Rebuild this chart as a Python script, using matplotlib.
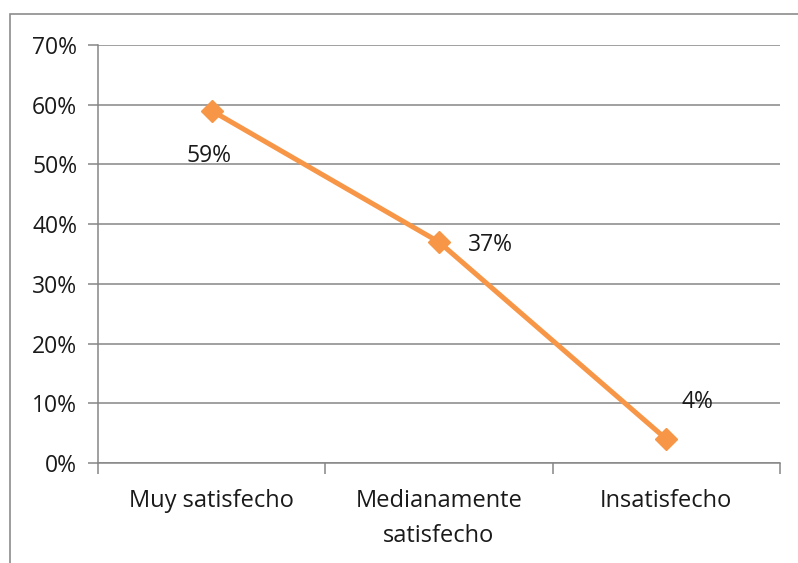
import matplotlib.pyplot as plt
import matplotlib.patches as patches
from matplotlib.ticker import FixedLocator

categories = ['Muy satisfecho', 'Medianamente\nsatisfecho', 'Insatisfecho']
values = [0.59, 0.37, 0.04]
labels = ['59%', '37%', '4%']
yticks = [0, 0.1, 0.2, 0.3, 0.4, 0.5, 0.6, 0.7]

plt.rcParams['font.family'] = ['Open Sans', 'DejaVu Sans']

W, H = 798, 563
fig = plt.figure(figsize=(W / 100, H / 100), dpi=100)

# chart border (right and bottom edges fall outside the image)
fig.patches.append(patches.Rectangle((10 / W, -0.1), 1.1, 1 - 14 / H + 0.1,
                                     transform=fig.transFigure, fill=False,
                                     edgecolor='#8c8c8c', linewidth=1.2))

ax = fig.add_axes([98 / W, 1 - 463 / H, (780 - 98) / W, (463 - 45) / H])
x = [0, 1, 2]
ax.plot(x, values, color='#F79646', linewidth=3.6, marker='D', markersize=11.5,
        solid_capstyle='round', zorder=3)

offsets = [(-3, -45), (51, -3), (31, 37)]
for xi, v, lab, (dx, dy) in zip(x, values, labels, offsets):
    ax.annotate(lab, (xi, v), xytext=(dx, dy), textcoords='offset pixels',
                ha='center', va='center', fontsize=16.5, color='#1a1a1a')

ax.set_xlim(-0.5, 2.5)
ax.set_ylim(0, 0.7)
ax.set_yticks(yticks)
ax.set_yticklabels([f'{int(round(t * 100))}%' for t in yticks])
ax.yaxis.grid(True, color='#868686', linewidth=1.1)
ax.set_axisbelow(True)

ax.set_xticks(x)
ax.set_xticklabels(categories, fontsize=17, color='#1a1a1a', linespacing=1.6)
ax.xaxis.set_minor_locator(FixedLocator([-0.5, 0.5, 1.5, 2.5]))
ax.tick_params(axis='x', which='major', length=0, pad=19)
ax.tick_params(axis='x', which='minor', length=8, color='#868686', width=1.1)
ax.tick_params(axis='y', length=7, color='#868686', width=1.1, labelsize=16.5,
               labelcolor='#1a1a1a', pad=8)

for side in ['top', 'right']:
    ax.spines[side].set_visible(False)
for side in ['left', 'bottom']:
    ax.spines[side].set_color('#868686')
    ax.spines[side].set_linewidth(1.1)

fig.savefig('out.png', dpi=100)
